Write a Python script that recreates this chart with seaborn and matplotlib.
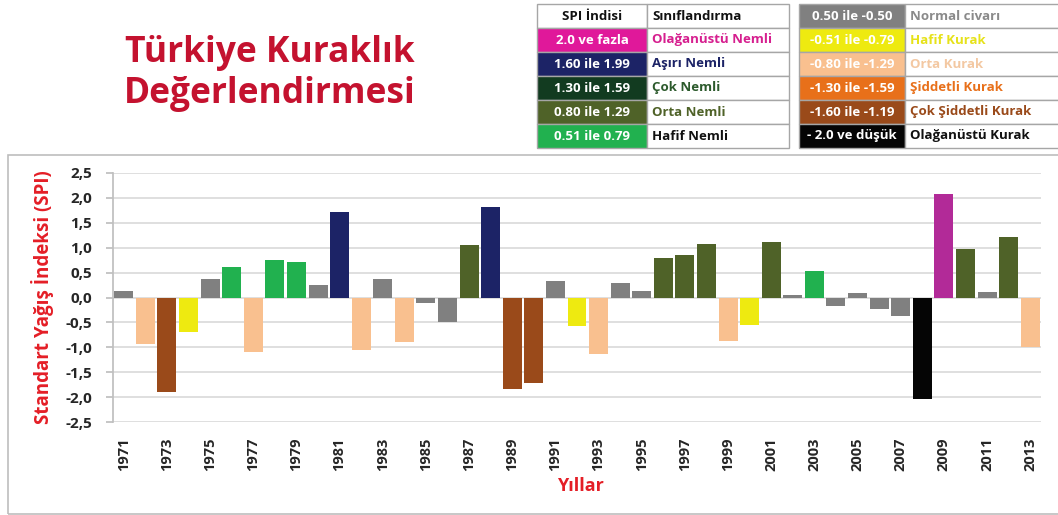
import matplotlib
matplotlib.use("Agg")
import matplotlib.pyplot as plt
from matplotlib.patches import Rectangle
import seaborn as sns
import pandas as pd

# SPI values
years = list(range(1971, 2014))
spi = [0.13, -0.93, -1.89, -0.70, 0.38, 0.62, -1.10, 0.75, 0.71, 0.26,
       1.72, -1.05, 0.38, -0.90, -0.12, -0.50, 1.05, 1.81, -1.83, -1.72,
       0.34, -0.58, -1.14, 0.30, 0.13, 0.79, 0.86, 1.07, -0.87, -0.56,
       1.11, 0.05, 0.54, -0.17, 0.10, -0.23, -0.38, -2.03, 2.07, 0.97,
       0.11, 1.22, -1.00]
spi_class = ["normal", "orta_kurak", "cok_siddetli", "hafif_kurak", "normal",
             "hafif_nemli", "orta_kurak", "hafif_nemli", "hafif_nemli", "normal",
             "asiri_nemli", "orta_kurak", "normal", "orta_kurak", "normal",
             "normal", "orta_nemli", "asiri_nemli", "cok_siddetli", "cok_siddetli",
             "normal", "hafif_kurak", "orta_kurak", "normal", "normal",
             "orta_nemli", "orta_nemli", "orta_nemli", "orta_kurak", "hafif_kurak",
             "orta_nemli", "normal", "hafif_nemli", "normal", "normal",
             "normal", "normal", "olaganustu_kurak", "olaganustu_nemli", "orta_nemli",
             "normal", "orta_nemli", "orta_kurak"]

class_colors = {
    "olaganustu_nemli": "#b22a98",
    "asiri_nemli": "#1c2366",
    "cok_nemli": "#123b20",
    "orta_nemli": "#4f6228",
    "hafif_nemli": "#21b14f",
    "normal": "#808080",
    "hafif_kurak": "#eeea10",
    "orta_kurak": "#f9c08f",
    "siddetli_kurak": "#e8701a",
    "cok_siddetli": "#9a4a1a",
    "olaganustu_kurak": "#050505",
}

# legend tables: range text, class name, cell colour, label colour
wet_ranges = ["2.0 ve fazla", "1.60 ile 1.99", "1.30 ile 1.59", "0.80 ile 1.29", "0.51 ile 0.79"]
wet_names = ["Olağanüstü Nemli", "Aşırı Nemli", "Çok Nemli", "Orta Nemli", "Hafif Nemli"]
wet_cells = ["#e0189a", "#1c2366", "#123b20", "#4f6228", "#21b14f"]
wet_text = ["#d61f8f", "#1c2366", "#2c5a2c", "#4f6228", "#111111"]

dry_ranges = ["0.50 ile -0.50", "-0.51 ile -0.79", "-0.80 ile -1.29", "-1.30 ile -1.59",
              "-1.60 ile -1.19", "- 2.0 ve düşük"]
dry_names = ["Normal civarı", "Hafif Kurak", "Orta Kurak", "Şiddetli Kurak",
             "Çok Şiddetli Kurak", "Olağanüstü Kurak"]
dry_cells = ["#808080", "#eeea10", "#f9c08f", "#e8701a", "#9a4a1a", "#050505"]
dry_text = ["#8a8a8a", "#e6e21a", "#f3c8a2", "#e8701a", "#9a4a1a", "#111111"]

df = pd.DataFrame({"year": [str(y) for y in years], "spi": spi, "cls": spi_class})

W, H = 1058, 515
sns.set_theme(style="white")
plt.rcParams["font.family"] = ["Open Sans", "DejaVu Sans"]

fig = plt.figure(figsize=(W / 100, H / 100), dpi=100)
fig.patch.set_facecolor("white")


def fx(px):
    return px / W


def fy(py):
    return 1 - py / H


# outer chart frame
fig.add_artist(Rectangle((fx(8), fy(514)), fx(1070) - fx(8), fy(155) - fy(514),
                         transform=fig.transFigure, fill=False, edgecolor="#bdbdbd", lw=1.2))

ax = fig.add_axes([fx(113), fy(422), fx(1041) - fx(113), fy(173) - fy(422)])
sns.barplot(data=df, x="year", y="spi", hue="cls", palette=class_colors, dodge=False,
            legend=False, width=0.88, ax=ax, saturation=1, edgecolor="none")

ax.set_xlim(-0.5, len(years) - 0.5)
ax.set_ylim(-2.5, 2.5)
yt = [-2.5, -2.0, -1.5, -1.0, -0.5, 0.0, 0.5, 1.0, 1.5, 2.0, 2.5]
ax.set_yticks(yt)
ax.set_yticklabels([f"{v:.1f}".replace(".", ",") for v in yt], fontsize=11,
                   fontweight="bold", color="#262626")
ax.set_xticks(range(0, len(years), 2))
ax.set_xticklabels([str(y) for y in years[::2]], rotation=90, fontsize=10.5,
                   fontweight="bold", color="#262626")
ax.yaxis.grid(True, color="#d9d9d9", lw=1.2)
ax.set_axisbelow(True)
for s in ["top", "right", "bottom"]:
    ax.spines[s].set_visible(False)
ax.spines["left"].set_color("#bfbfbf")
ax.tick_params(axis="y", left=True, length=5, color="#bfbfbf", pad=10)
ax.tick_params(axis="x", bottom=False, pad=5)
ax.set_xlabel("")
ax.set_ylabel("Standart Yağış İndeksi (SPI)", color="#e41e26", fontsize=13.5,
              fontweight="bold")
ax.yaxis.set_label_coords(-0.064, 0.5)
fig.text(fx(580), fy(486), "Yıllar", color="#e41e26", fontsize=13, fontweight="bold",
         ha="center", va="center")

# title
fig.text(fx(270), fy(53), "Türkiye Kuraklık", color="#c4122f", fontsize=25.5,
         fontweight="bold", ha="center", va="center")
fig.text(fx(270), fy(94), "Değerlendirmesi", color="#c4122f", fontsize=25.5,
         fontweight="bold", ha="center", va="center")

# legend tables
row_edges = [4, 28, 52, 76, 100, 124, 148]


def cell(x0, x1, r, face, text, tcolor, ha="center"):
    y0, y1 = row_edges[r], row_edges[r + 1]
    fig.add_artist(Rectangle((fx(x0), fy(y1)), fx(x1) - fx(x0), fy(y0) - fy(y1),
                             transform=fig.transFigure, facecolor=face,
                             edgecolor="#a6a6a6", lw=1))
    tx = (x0 + x1) / 2 if ha == "center" else x0 + 5
    fig.text(fx(tx), fy((y0 + y1) / 2), text, color=tcolor, fontsize=9.5,
             fontweight="bold", ha=ha, va="center")


cell(537, 647, 0, "white", "SPI İndisi", "#111111")
cell(647, 789, 0, "white", "Sınıflandırma", "#111111", ha="left")
for i in range(len(wet_ranges)):
    cell(537, 647, i + 1, wet_cells[i], wet_ranges[i], "white")
    cell(647, 789, i + 1, "white", wet_names[i], wet_text[i], ha="left")

for i in range(len(dry_ranges)):
    cell(799, 905, i, dry_cells[i], dry_ranges[i], "white")
    cell(905, 1075, i, "white", dry_names[i], dry_text[i], ha="left")

fig.savefig("out.png", dpi=100)
